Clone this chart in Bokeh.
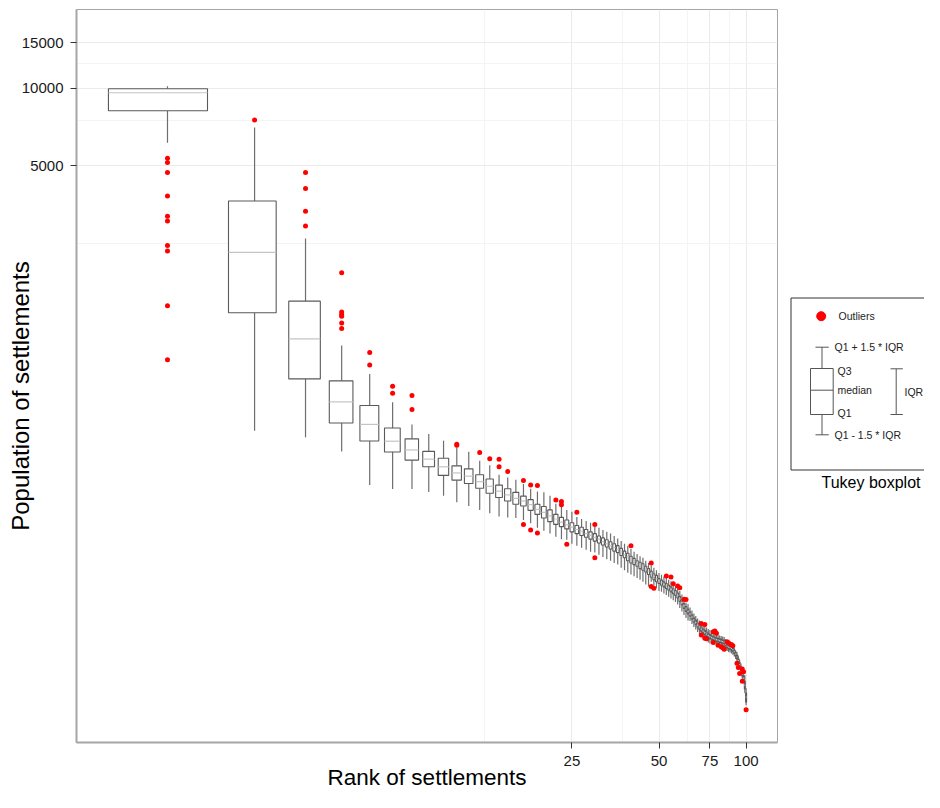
from bokeh.plotting import figure
from bokeh.models import Range1d, FixedTicker, PrintfTickFormatter, ColumnDataSource
from bokeh.layouts import row
from bokeh.embed import file_html
from bokeh.resources import INLINE
from bokeh.core.properties import value

# ---------------- data ----------------
ranks = list(range(1, 101))

whisker_high = [10153, 7033, 2602, 1000, 776, 602, 493, 453, 427, 402,
                387, 357, 343, 315, 307, 301, 290, 278, 271, 269,
                261, 243, 236, 230, 226, 216, 212, 208, 205, 198,
                196, 192, 189, 186, 182, 178, 174, 170, 167, 162,
                158, 155, 152, 150, 146, 143, 140, 137, 134, 130.8,
                128.8, 126.9, 125.1, 123.2, 121.4, 117.0, 116.5, 113.9, 111.4, 107.9,
                101.8, 100.5, 99.1, 96.1, 93.5, 91.0, 89.0, 87.0, 85.5, 82.1,
                82.5, 81.4, 80.3, 79.2, 78.5, 76.8, 76.2, 75.8, 75.1, 75.1,
                74.8, 74.4, 74.1, 73.8, 72.5, 69.9, 69.2, 68.9, 68.1, 67.4,
                66.9, 65.6, 64.5, 62.5, 60.3, 58.2, 54.4, 52.9, 52.5, 46.7]

q3 = [9937, 3642, 1487, 729, 585, 478, 434, 388, 365, 341,
      332, 315, 303, 287, 278, 269, 260, 252, 242, 237,
      230, 221, 215, 210, 205, 200, 197, 193, 189, 186,
      182, 179, 176, 173, 170, 167, 163, 159, 156, 152,
      149, 146, 144, 142, 139, 136, 133, 130, 128, 124.5,
      122.7, 120.8, 119.1, 117.3, 115.5, 113.6, 111.9, 109.4, 106.1, 102.8,
      99.6, 97.0, 94.8, 92.5, 90.0, 87.6, 85.8, 83.8, 82.4, 80.9,
      79.4, 78.4, 77.3, 76.2, 75.5, 74.6, 74.1, 73.6, 73.3, 73.0,
      72.7, 72.4, 72.0, 71.6, 70.4, 69.1, 68.5, 68.2, 67.7, 67.0,
      65.9, 64.5, 62.8, 60.9, 58.7, 56.7, 53.9, 52.0, 49.7, 44.7]

median = [9587, 2300, 1062, 604, 494, 425, 393, 362, 338, 320,
          311, 296, 284, 272, 263, 255, 249, 241, 231, 225,
          218, 212, 206, 201, 197, 193, 190, 186, 183, 180,
          177, 173, 170, 167, 164, 161, 158, 154, 151, 148,
          145, 142, 140, 138, 135, 133, 130, 127, 124, 121.8,
          119.9, 118.2, 116.5, 114.7, 113.0, 111.1, 109.4, 107.0, 103.7, 100.4,
          97.4, 94.8, 92.7, 90.6, 88.2, 85.9, 84.0, 82.1, 80.7, 79.2,
          77.8, 76.8, 75.8, 74.8, 74.1, 73.4, 72.9, 72.5, 72.1, 71.8,
          71.5, 71.1, 70.8, 70.5, 69.2, 68.0, 67.4, 67.1, 66.6, 65.9,
          64.8, 63.3, 61.7, 59.8, 57.7, 55.7, 52.9, 51.1, 48.0, 43.1]

q1 = [8160, 1340, 742, 500, 426, 386, 359, 338, 313, 300,
      291, 279, 267, 257, 249, 242, 238, 229, 221, 214,
      207, 202, 198, 194, 189, 186, 183, 180, 177, 174,
      171, 168, 165, 162, 159, 157, 153, 150, 146, 143,
      141, 139, 136, 134, 132, 129, 126, 123, 121, 119.1,
      117.3, 115.5, 113.9, 112.2, 110.5, 108.6, 107.0, 104.6, 101.4, 98.2,
      95.2, 92.7, 90.6, 88.8, 86.5, 84.2, 82.3, 80.5, 79.0, 77.6,
      76.2, 75.2, 74.2, 73.2, 72.6, 72.3, 71.7, 71.2, 70.9, 70.6,
      70.3, 70.0, 69.6, 69.3, 68.1, 66.9, 66.3, 66.0, 65.6, 64.9,
      63.6, 62.2, 60.6, 58.7, 56.7, 54.7, 52.0, 50.2, 46.3, 41.2]

whisker_low = [6127, 467, 440, 388, 287, 277, 277, 270, 261, 246,
               238, 230, 223, 217, 215, 214, 210, 204, 196, 191,
               186, 181, 177, 176, 170, 167, 164, 161, 158, 157,
               154, 151, 148, 146, 143, 141, 137, 134, 131, 129,
               127, 125, 123, 121, 118, 116, 121, 117, 114, 111.4,
               110.7, 109.0, 107.5, 105.8, 104.2, 102.5, 100.9, 98.7, 95.6, 92.7,
               89.8, 87.4, 85.5, 85.1, 82.9, 80.7, 78.9, 77.1, 75.8, 76.2,
               73.1, 73.8, 73.4, 70.2, 69.6, 70.2, 71.1, 69.2, 68.9, 69.9,
               68.6, 68.6, 68.2, 67.7, 66.2, 65.05, 64.5, 64.2, 63.7, 63.0,
               62.0, 60.6, 59.2, 57.4, 55.2, 53.2, 50.9, 48.8, 44.7, 40.1]

outlier_rank = [1, 1, 1, 1, 1, 1, 1, 1, 1, 1,
                2, 3, 3, 3, 3, 4, 4, 4, 4, 4, 4,
                5, 5, 6, 6, 7, 7, 10, 10, 12, 13, 14, 14, 15,
                17, 17, 18, 18, 19, 19, 22, 23, 23, 24, 26, 30, 30,
                40, 47, 47, 48, 53, 55, 56, 58, 59, 61, 62,
                70, 70, 72, 72, 73, 77, 77, 78, 79, 80, 82, 83, 84,
                86, 87, 89, 90, 93, 94, 95, 97, 97, 98, 100]
outlier_pop = [5340, 5140, 4699, 3811, 3177, 3048, 2445, 2328, 1427, 880,
               7505, 4699, 4070, 3322, 2912, 1918, 1348, 1321, 1300, 1222, 1164,
               939, 841, 695, 652, 639, 564, 414, 410, 384, 363, 362, 338, 324,
               299, 202, 287, 192, 286, 187, 251, 248, 241, 169, 225, 202, 150,
               167, 143, 116, 114, 127.4, 126.2, 118.9, 116.5, 114.7, 103.5, 103.1,
               83.3, 75.1, 82.6, 72.9, 72.6, 77.3, 70.2, 77.8, 76.3, 68.6, 67.6, 67.0, 66.2,
               70.8, 70.0, 69.0, 68.3, 58.4, 56.2, 53.3, 55.4, 49.7, 54.1, 38.5]

x_ticks = [25, 50, 75, 100]
x_minor = [12.5, 37.5, 62.5, 87.5]
y_ticks = [5000, 10000, 15000]
y_minor = [2500, 7500, 12500]

FONT = "Liberation Sans"
TOP, BOTTOM = 9, 50   # shared borders so that both panels keep the same frame

# ---------------- main panel ----------------
p = figure(width=789, height=792, x_axis_type="log", y_axis_type="log",
           x_range=Range1d(0.4847, 128.4), y_range=Range1d(28.73, 20180),
           min_border_left=76, min_border_right=12, min_border_top=TOP, min_border_bottom=BOTTOM,
           output_backend="svg", toolbar_location=None, title=None)
p.background_fill_color = "white"
p.border_fill_color = "white"
p.outline_line_color = "#a6a6a6"
p.outline_line_width = 1

p.xaxis.ticker = FixedTicker(ticks=x_ticks, minor_ticks=x_minor)
p.yaxis.ticker = FixedTicker(ticks=y_ticks, minor_ticks=y_minor)
p.xgrid.ticker = FixedTicker(ticks=x_ticks, minor_ticks=x_minor)
p.ygrid.ticker = FixedTicker(ticks=y_ticks, minor_ticks=y_minor)
p.xaxis.formatter = PrintfTickFormatter(format="%d")
p.yaxis.formatter = PrintfTickFormatter(format="%d")

for g in (p.xgrid, p.ygrid):
    g.grid_line_color = "#ebebeb"
    g.grid_line_width = 1
    g.minor_grid_line_color = "#f4f4f4"
    g.minor_grid_line_width = 1

for ax in (p.xaxis, p.yaxis):
    ax.axis_line_color = "#a6a6a6"
    ax.axis_line_width = 2
    ax.major_tick_line_color = "#333333"
    ax.major_tick_line_width = 1
    ax.major_tick_out = 6
    ax.major_tick_in = 0
    ax.minor_tick_line_color = None
    ax.major_label_text_font = FONT
    ax.major_label_text_font_size = "15px"
    ax.major_label_text_color = "#1a1a1a"
    ax.axis_label_text_font = FONT
    ax.axis_label_text_font_style = "normal"
    ax.axis_label_text_color = "#000000"

p.xaxis.major_label_standoff = 7
p.xaxis.axis_label = "Rank of settlements"
p.xaxis.axis_label_text_font_size = "22.5px"
p.xaxis.axis_label_standoff = -4

p.yaxis.major_label_standoff = 7
# trailing no-break spaces shift the centred title a little toward the bottom, as in the original
p.yaxis.axis_label = "Population of settlements" + "\u00a0" * 6
p.yaxis.axis_label_text_font_size = "24px"
p.yaxis.axis_label_standoff = -15

half = 0.375
src = ColumnDataSource(dict(
    rank=ranks,
    left=[r - half for r in ranks],
    right=[r + half for r in ranks],
    whi=whisker_high, q3=q3, med=median, q1=q1, wlo=whisker_low,
))

p.segment(x0="rank", y0="q3", x1="rank", y1="whi", source=src, line_color="#6e6e6e", line_width=1.2)
p.segment(x0="rank", y0="q1", x1="rank", y1="wlo", source=src, line_color="#6e6e6e", line_width=1.2)
p.quad(left="left", right="right", top="q3", bottom="q1", source=src,
       fill_color="white", line_color="#5a5a5a", line_width=1.1)
p.segment(x0="left", y0="med", x1="right", y1="med", source=src, line_color="#c4c4c4", line_width=1.2)
p.scatter(outlier_rank, outlier_pop, size=5, fill_color="#ff0000", line_color="#ff0000", line_width=0)

# ---------------- legend panel (frame spans the same rows as the main panel) ----------------
lg = figure(width=135, height=792, x_range=Range1d(790, 925), y_range=Range1d(743, 10),
            min_border_left=0, min_border_right=0, min_border_top=TOP, min_border_bottom=BOTTOM,
            x_axis_location=None, y_axis_location=None,
            output_backend="svg", toolbar_location=None, title=None)
lg.grid.visible = False
lg.outline_line_color = None
lg.background_fill_color = "white"
lg.border_fill_color = "white"

lg.quad(left=[791.5], right=[1000], top=[298.5], bottom=[470.5],
        fill_color=None, line_color="#333333", line_width=1)
lg.scatter([821.7], [316.7], size=9, fill_color="#ff0000", line_color="#ff0000")

lg.segment(x0=[822.5, 822.5, 816, 816], y0=[347.7, 415, 347.7, 435.3],
           x1=[822.5, 822.5, 829.3, 829.3], y1=[369, 435.3, 347.7, 435.3],
           line_color="#555555", line_width=1)
lg.quad(left=[811], right=[833.7], top=[369], bottom=[415],
        fill_color="white", line_color="#555555", line_width=1)
lg.segment(x0=[811], y0=[390.7], x1=[833.7], y1=[390.7], line_color="#555555", line_width=1)
lg.segment(x0=[896.7, 891, 891], y0=[369.3, 369.3, 415], x1=[896.7, 903.3, 903.3], y1=[415, 369.3, 415],
           line_color="#555555", line_width=1)

lg.text(x=[839], y=[316.7], text=["Outliers"], text_font=value(FONT), text_font_size="10.5px",
        text_baseline="middle", text_align="left", text_color="#222222")
lg.text(x=[835, 838, 838, 838, 835, 905],
        y=[347.7, 371, 390.7, 413.3, 435.3, 392.3],
        text=["Q1 + 1.5 * IQR", "Q3", "median", "Q1", "Q1 - 1.5 * IQR", "IQR"],
        text_font=value(FONT), text_font_size="10.5px",
        text_baseline="middle", text_align="left", text_color="#222222")
lg.text(x=[822], y=[483.3], text=["Tukey boxplot"], text_font=value(FONT), text_font_size="16px",
        text_baseline="middle", text_align="left", text_color="#000000")

layout = row(p, lg, spacing=0)
open("out.html", "w").write(file_html(layout, INLINE))
